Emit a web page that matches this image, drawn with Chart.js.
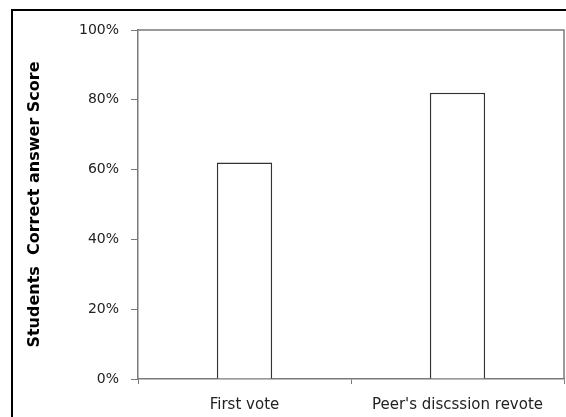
<!DOCTYPE html>
<html>
<head>
<meta charset="utf-8">
<script src="https://cdn.jsdelivr.net/npm/chart.js@4"></script>
<style>
  html, body { margin: 0; padding: 0; background: #fff; }
  #wrap { width: 566px; height: 417px; position: relative; }
</style>
</head>
<body>
<div id="wrap"><canvas id="chart"></canvas></div>
<script>
const categories = ['First vote', "Peer's discssion revote"];
const scores = [62, 82];
const yTicks = [0, 20, 40, 60, 80, 100];
const yTitle = 'Students  Correct answer Score';

// grey frame round the plot + black outer border
const framePlugin = {
  id: 'frame',
  beforeDraw(chart) {
    const c = chart.ctx;
    c.save();
    c.strokeStyle = '#000';
    c.lineWidth = 2;
    c.strokeRect(12, 10, 700, 700);
    c.restore();
  },
  afterDatasetsDraw(chart) {
    const a = chart.chartArea, c = chart.ctx;
    c.save();
    c.strokeStyle = '#7a7a7a';
    c.lineWidth = 1.5;
    c.beginPath();
    c.moveTo(a.left, a.top);
    c.lineTo(a.right, a.top);
    c.lineTo(a.right, a.bottom);
    c.stroke();
    c.restore();
  }
};

document.addEventListener('DOMContentLoaded', function(){
  const ctx = document.getElementById('chart');
  new Chart(ctx.getContext('2d'), {
    type: 'bar',
    data: {
      labels: categories,
      datasets: [{
        data: scores,
        backgroundColor: '#ffffff',
        borderColor: '#333333',
        borderWidth: 1.5,
        categoryPercentage: 1,
        barPercentage: 0.26
      }]
    },
    options: {
      responsive: true,
      maintainAspectRatio: false,
      animation: false,
      events: [],
      layout: { padding: { top: 30, right: 2, left: 0, bottom: 0 } },
      plugins: { legend: { display: false }, tooltip: { enabled: false } },
      scales: {
        x: {
          grid: { display: true, drawOnChartArea: false, drawTicks: true, tickLength: 5, color: '#7a7a7a', lineWidth: 1 },
          border: { display: true, color: '#7a7a7a', width: 1.5 },
          ticks: { color: '#222', font: { family: 'DejaVu Sans', size: 15 }, padding: 12, maxRotation: 0 },
          afterFit(s) { s.height = 38; }
        },
        y: {
          min: 0, max: 100,
          afterBuildTicks(s) { s.ticks = yTicks.map(v => ({ value: v })); },
          grid: { display: true, drawOnChartArea: false, drawTicks: true, tickLength: 7, color: '#7a7a7a', lineWidth: 1 },
          border: { display: true, color: '#7a7a7a', width: 1.5 },
          ticks: { color: '#222', font: { family: 'DejaVu Sans', size: 14 }, padding: 12, callback: v => v + '%' },
          title: {
            display: true, text: yTitle, color: '#000',
            font: { family: 'DejaVu Sans', size: 16, weight: 'bold' },
            padding: { top: 25, bottom: 0 }
          },
          afterFit(s) { s.width = 138; }
        }
      }
    },
    plugins: [framePlugin]
  });
});
</script>
</body>
</html>
